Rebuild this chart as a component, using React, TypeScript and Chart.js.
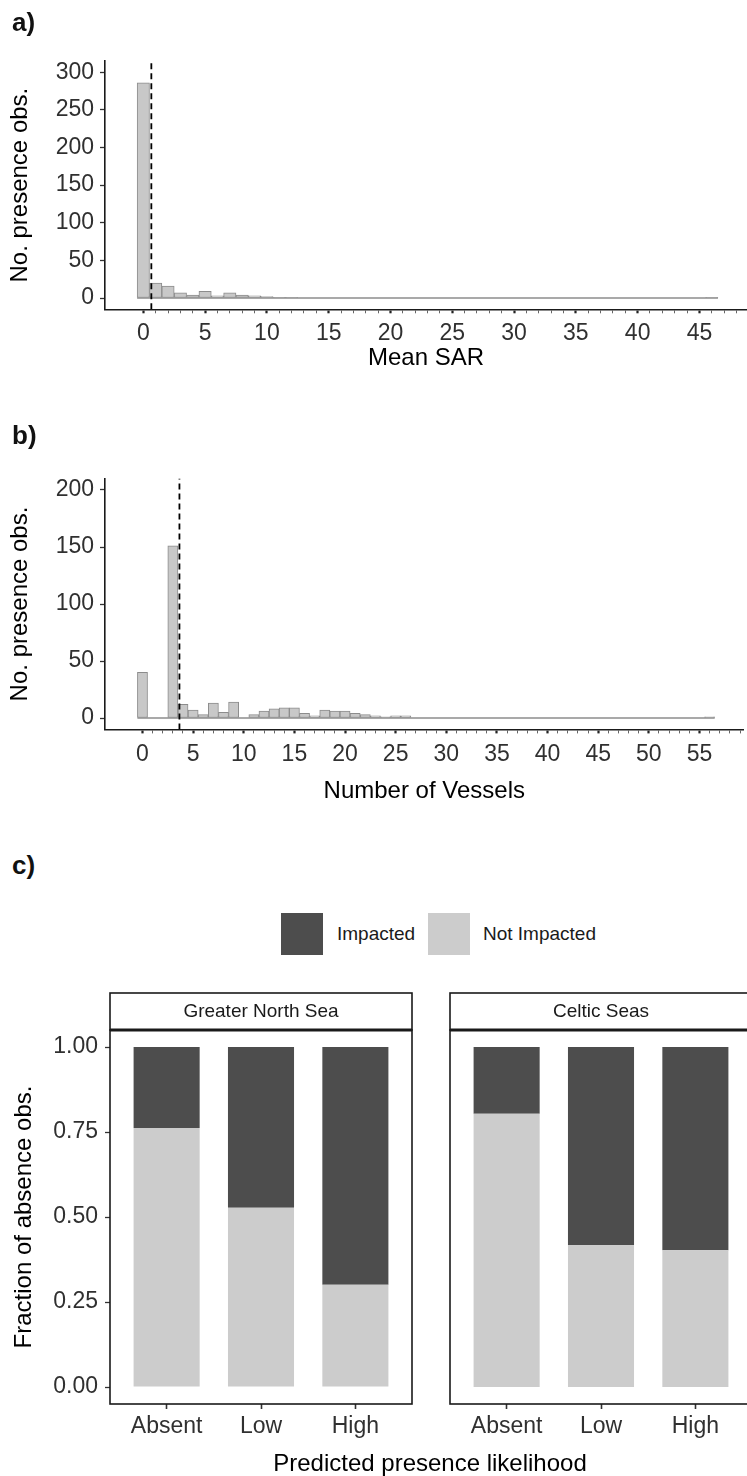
import React, { useEffect, useRef } from "react";
import { Chart, registerables } from "chart.js";

Chart.register(...registerables);

const FONT = "'Liberation Sans', Arial, Helvetica, sans-serif";

// ---------- Panel a: Mean SAR histogram ----------
const sarBins = [0, 1, 2, 3, 4, 5, 6, 7, 8, 9, 10, 11, 12, 13, 14, 15, 16, 17, 18, 19, 20, 21, 22, 23, 24, 25, 26, 27, 28, 29, 30, 31, 32, 33, 34, 35, 36, 37, 38, 39, 40, 41, 42, 43, 44, 45, 46];
const sarCounts = [286, 20, 16, 7, 4, 9, 3, 7, 4, 3, 2, 1, 1, 0, 0, 0, 0, 0, 0, 0, 0, 0, 0, 0, 0, 0, 0, 0, 0, 0, 0, 0, 0, 0, 0, 0, 0, 0, 0, 0, 0, 0, 0, 0, 0, 0, 1];
const sarThreshold = 0.65;
const sarXLabels = [0, 5, 10, 15, 20, 25, 30, 35, 40, 45];
const sarYTicks = [0, 50, 100, 150, 200, 250, 300];

// ---------- Panel b: Number of vessels histogram ----------
const vesselBins = [0, 1, 2, 3, 4, 5, 6, 7, 8, 9, 10, 11, 12, 13, 14, 15, 16, 17, 18, 19, 20, 21, 22, 23, 24, 25, 26, 27, 28, 29, 30, 31, 32, 33, 34, 35, 36, 37, 38, 39, 40, 41, 42, 43, 44, 45, 46, 47, 48, 49, 50, 51, 52, 53, 54, 55, 56];
const vesselCounts = [40, 0, 0, 151, 12, 7, 3, 13, 5, 14, 0, 3, 6, 8, 9, 9, 4, 2, 7, 6, 6, 4, 3, 2, 1, 2, 2, 0, 0, 0, 0, 0, 0, 0, 0, 0, 0, 0, 0, 0, 0, 0, 0, 0, 0, 0, 0, 0, 0, 0, 0, 0, 0, 0, 0, 0, 1];
const vesselThreshold = 3.65;
const vesselXLabels = [0, 5, 10, 15, 20, 25, 30, 35, 40, 45, 50, 55];
const vesselYTicks = [0, 50, 100, 150, 200];

// ---------- Panel c: stacked fractions ----------
const likelihoodLevels = ["Absent", "Low", "High"];
const regions = ["Greater North Sea", "Celtic Seas"];
const notImpactedGNS = [0.762, 0.527, 0.301];
const impactedGNS = [0.238, 0.473, 0.699];
const notImpactedCS = [0.804, 0.417, 0.402];
const impactedCS = [0.196, 0.583, 0.598];
const fractionTicks = [0, 0.25, 0.5, 0.75, 1];

const DARK = "#4d4d4d";
const LIGHT = "#cccccc";
const HIST_FILL = "#c8c8c8";
const HIST_LINE = "#8c8c8c";
const AXIS = "#1a1a1a";
const TICK_TXT = "#303030";

type HistParams = {
  bins: number[];
  counts: number[];
  threshold: number;
  xLabels: number[];
  yTicks: number[];
  xMin: number;
  xMax: number;
  yMin: number;
  yMax: number;
  xTitle: string;
  yTitle: string;
  padTop: number;
  xHeight: number;
  tickPad: number;
  titlePadBottom: number;
};

function makeHist(canvas: HTMLCanvasElement, p: HistParams) {
  const minor: number[] = [];
  for (let v = Math.ceil(p.bins[0]); v <= Math.floor(p.xMax); v++) minor.push(v);
  const first = p.bins[0] - 0.5;
  const last = p.bins[p.bins.length - 1] + 0.5;
  return new Chart(canvas, {
    type: "bar",
    data: {
      datasets: [
        {
          type: "line",
          data: [
            { x: p.threshold, y: p.yMin },
            { x: p.threshold, y: p.yMax },
          ],
          borderColor: "#000",
          borderWidth: 1.8,
          borderDash: [6, 4],
          pointRadius: 0,
          order: 0,
        } as any,
        {
          type: "line",
          data: [
            { x: first, y: 0 },
            { x: last, y: 0 },
          ],
          borderColor: HIST_LINE,
          borderWidth: 1.3,
          pointRadius: 0,
          order: 1,
        } as any,
        {
          type: "bar",
          data: p.bins.map((b, i) => ({ x: b, y: p.counts[i] })),
          backgroundColor: HIST_FILL,
          borderColor: HIST_LINE,
          borderWidth: 1,
          borderSkipped: false,
          barPercentage: 1,
          categoryPercentage: 1,
          order: 2,
        } as any,
      ],
    },
    options: {
      responsive: false,
      animation: false,
      layout: { padding: { top: p.padTop, left: 0, right: 0, bottom: 0 } },
      plugins: { legend: { display: false }, tooltip: { enabled: false } },
      scales: {
        x: {
          type: "linear",
          min: p.xMin,
          max: p.xMax,
          offset: false,
          afterBuildTicks: (s: any) => {
            s.ticks = minor.map((v) => ({ value: v }));
          },
          afterFit: (s: any) => {
            s.height = p.xHeight;
          },
          grid: {
            display: true,
            offset: false,
            drawOnChartArea: false,
            drawTicks: true,
            tickLength: 4,
            tickColor: (ctx: any) => (ctx.tick && ctx.tick.value % 5 === 0 ? "#222" : "#666"),
            tickWidth: (ctx: any) => (ctx.tick && ctx.tick.value % 5 === 0 ? 2.2 : 1),
          },
          border: { display: true, color: AXIS, width: 1.6 },
          ticks: {
            autoSkip: false,
            maxRotation: 0,
            padding: p.tickPad,
            color: TICK_TXT,
            font: { family: FONT, size: 23 },
            callback: (v: any) => (p.xLabels.includes(Number(v)) ? String(v) : ""),
          },
          title: {
            display: true,
            text: p.xTitle,
            color: "#000",
            font: { family: FONT, size: 24 },
            padding: { top: 0, bottom: p.titlePadBottom },
          },
        },
        y: {
          type: "linear",
          min: p.yMin,
          max: p.yMax,
          afterBuildTicks: (s: any) => {
            s.ticks = p.yTicks.map((v) => ({ value: v }));
          },
          afterFit: (s: any) => {
            s.width = 105;
          },
          grid: {
            display: true,
            drawOnChartArea: false,
            drawTicks: true,
            tickLength: 5,
            tickColor: "#333",
            tickWidth: 1.3,
          },
          border: { display: true, color: AXIS, width: 1.6 },
          ticks: {
            padding: 6,
            color: TICK_TXT,
            font: { family: FONT, size: 23 },
          },
          title: {
            display: true,
            text: p.yTitle,
            color: "#000",
            font: { family: FONT, size: 24 },
            padding: { top: 5.6, bottom: 0 },
          },
        },
      },
    } as any,
  });
}

const STRIP_H = 37;

function facetFrame(label: string) {
  return {
    id: "facetFrame",
    afterDraw(chart: any) {
      const { ctx, chartArea } = chart;
      const { left, top, right, bottom } = chartArea;
      ctx.save();
      ctx.strokeStyle = AXIS;
      ctx.lineWidth = 1.6;
      ctx.strokeRect(left, top, right - left, bottom - top);
      ctx.strokeRect(left, top - STRIP_H, right - left, STRIP_H);
      ctx.lineWidth = 3;
      ctx.beginPath();
      ctx.moveTo(left, top);
      ctx.lineTo(right, top);
      ctx.stroke();
      ctx.fillStyle = "#1a1a1a";
      ctx.font = `19px ${FONT}`;
      ctx.textAlign = "center";
      ctx.textBaseline = "middle";
      ctx.fillText(label, (left + right) / 2, top - STRIP_H / 2);
      ctx.restore();
    },
  };
}

function makeFacet(
  canvas: HTMLCanvasElement,
  region: string,
  notImp: number[],
  imp: number[],
  showY: boolean
) {
  return new Chart(canvas, {
    type: "bar",
    data: {
      datasets: [
        {
          label: "Not Impacted",
          data: likelihoodLevels.map((_, i) => ({ x: i + 1, y: notImp[i] })),
          backgroundColor: LIGHT,
          borderWidth: 0,
          barPercentage: 0.7,
          categoryPercentage: 1,
        },
        {
          label: "Impacted",
          data: likelihoodLevels.map((_, i) => ({ x: i + 1, y: imp[i] })),
          backgroundColor: DARK,
          borderWidth: 0,
          barPercentage: 0.7,
          categoryPercentage: 1,
        },
      ],
    },
    options: {
      responsive: false,
      animation: false,
      layout: { padding: { top: 45, left: showY ? 0 : 1, right: showY ? 8 : 1, bottom: 0 } },
      plugins: { legend: { display: false }, tooltip: { enabled: false } },
      scales: {
        x: {
          type: "linear",
          stacked: true,
          min: 0.4,
          max: 3.6,
          offset: false,
          afterBuildTicks: (s: any) => {
            s.ticks = likelihoodLevels.map((_, i) => ({ value: i + 1 }));
          },
          afterFit: (s: any) => {
            s.height = 72;
          },
          grid: {
            display: true,
            offset: false,
            drawOnChartArea: false,
            drawTicks: true,
            tickLength: 5,
            tickColor: "#333",
            tickWidth: 1.6,
          },
          border: { display: false },
          ticks: {
            autoSkip: false,
            maxRotation: 0,
            padding: 4.2,
            color: TICK_TXT,
            font: { family: FONT, size: 23 },
            callback: (v: any) => likelihoodLevels[Number(v) - 1] ?? "",
          },
        },
        y: {
          type: "linear",
          stacked: true,
          display: showY,
          min: -0.05,
          max: 1.05,
          afterBuildTicks: (s: any) => {
            s.ticks = fractionTicks.map((v) => ({ value: v }));
          },
          afterFit: (s: any) => {
            if (showY) s.width = 110;
          },
          grid: {
            display: true,
            drawOnChartArea: false,
            drawTicks: true,
            tickLength: 5,
            tickColor: "#333",
            tickWidth: 1.3,
          },
          border: { display: false },
          ticks: {
            padding: 7,
            color: TICK_TXT,
            font: { family: FONT, size: 23 },
            callback: (v: any) => Number(v).toFixed(2),
          },
          title: {
            display: true,
            text: "Fraction of absence obs.",
            color: "#000",
            font: { family: FONT, size: 24 },
            padding: { top: 9.6, bottom: 0 },
          },
        },
      },
    } as any,
    plugins: [facetFrame(region)],
  });
}

const abs = (left: number, top: number, extra: React.CSSProperties = {}): React.CSSProperties => ({
  position: "absolute",
  left,
  top,
  ...extra,
});

export default function App() {
  const aRef = useRef<HTMLCanvasElement>(null);
  const bRef = useRef<HTMLCanvasElement>(null);
  const c1Ref = useRef<HTMLCanvasElement>(null);
  const c2Ref = useRef<HTMLCanvasElement>(null);

  useEffect(() => {
    const charts: Chart[] = [];
    if (aRef.current)
      charts.push(
        makeHist(aRef.current, {
          bins: sarBins,
          counts: sarCounts,
          threshold: sarThreshold,
          xLabels: sarXLabels,
          yTicks: sarYTicks,
          xMin: -3.1,
          xMax: 48.85,
          yMin: -15,
          yMax: 315,
          xTitle: "Mean SAR",
          yTitle: "No. presence obs.",
          padTop: 61,
          xHeight: 75.7,
          tickPad: 7,
          titlePadBottom: 12.6,
        })
      );
    if (bRef.current)
      charts.push(
        makeHist(bRef.current, {
          bins: vesselBins,
          counts: vesselCounts,
          threshold: vesselThreshold,
          xLabels: vesselXLabels,
          yTicks: vesselYTicks,
          xMin: -3.7,
          xMax: 59.35,
          yMin: -10,
          yMax: 210,
          xTitle: "Number of Vessels",
          yTitle: "No. presence obs.",
          padTop: 83.6,
          xHeight: 80.6,
          tickPad: 7,
          titlePadBottom: 4.6,
        })
      );
    if (c1Ref.current) charts.push(makeFacet(c1Ref.current, regions[0], notImpactedGNS, impactedGNS, true));
    if (c2Ref.current) charts.push(makeFacet(c2Ref.current, regions[1], notImpactedCS, impactedCS, false));
    return () => charts.forEach((c) => c.destroy());
  }, []);

  const panelLabel: React.CSSProperties = {
    fontFamily: FONT,
    fontWeight: "bold",
    fontSize: 26,
    lineHeight: "26px",
    color: "#111",
  };
  const legendText: React.CSSProperties = {
    fontFamily: FONT,
    fontSize: 19,
    lineHeight: "20px",
    color: "#1a1a1a",
    whiteSpace: "nowrap",
  };

  return (
    <div
      style={{
        position: "absolute",
        left: 0,
        top: 0,
        width: 747,
        height: 1476,
        overflow: "hidden",
        background: "#fff",
      }}
    >
      <canvas ref={aRef} width={747} height={385} style={abs(0, 0, { width: 747, height: 385 })} />
      <canvas ref={bRef} width={747} height={415} style={abs(0, 395, { width: 747, height: 415 })} />
      <canvas ref={c1Ref} width={420} height={491} style={abs(0, 985, { width: 420, height: 491 })} />
      <canvas ref={c2Ref} width={304} height={491} style={abs(449, 985, { width: 304, height: 491 })} />

      <div style={abs(12, 9, panelLabel)}>a)</div>
      <div style={abs(12, 422, panelLabel)}>b)</div>
      <div style={abs(12, 852, panelLabel)}>c)</div>

      <div style={abs(281, 913, { width: 42, height: 42, background: DARK })} />
      <div style={abs(337, 924, legendText)}>Impacted</div>
      <div style={abs(428, 913, { width: 42, height: 42, background: LIGHT })} />
      <div style={abs(483, 924, legendText)}>Not Impacted</div>

      <div
        style={abs(430, 1451, {
          transform: "translateX(-50%)",
          fontFamily: FONT,
          fontSize: 24,
          lineHeight: "24px",
          color: "#000",
          whiteSpace: "nowrap",
        })}
      >
        Predicted presence likelihood
      </div>
    </div>
  );
}
